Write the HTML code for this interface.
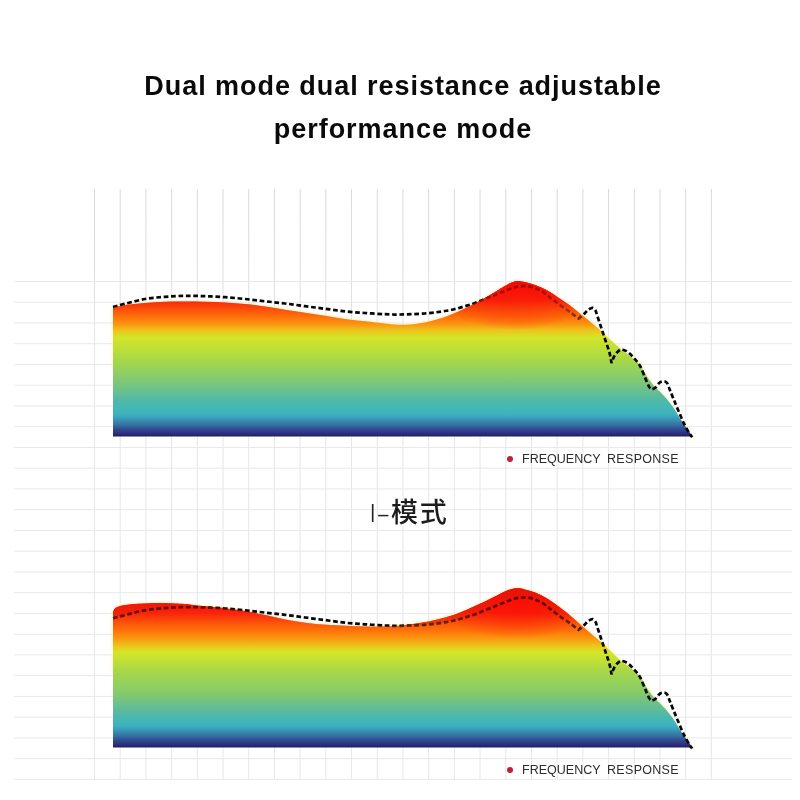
<!DOCTYPE html>
<html lang="en">
<head>
<meta charset="utf-8">
<title>Dual mode dual resistance adjustable performance mode</title>
<style>
html,body{margin:0;padding:0;background:#fff;}
body{width:800px;height:800px;position:relative;overflow:hidden;font-family:"Liberation Sans","Noto Sans CJK SC",sans-serif;}
svg{position:absolute;left:0;top:0;}
.title{position:absolute;left:0;width:806px;top:65.3px;text-align:center;font-weight:bold;font-size:27px;line-height:42.5px;color:#0a0a0a;letter-spacing:0.95px;margin:0;}
.mode{position:absolute;left:369px;top:493.2px;white-space:nowrap;font-weight:normal;font-size:27px;line-height:40px;color:#222;margin:0;letter-spacing:3px;}
.mode .lat{display:inline-block;font-size:25.8px;letter-spacing:0;transform:scaleX(0.68);}
.mode .hy{display:inline-block;font-size:25.6px;letter-spacing:0;transform:scale(1.65,0.72);margin:0 3.2px 0 2.4px;position:relative;top:1.7px;}
.mode .cj{letter-spacing:2px;margin-left:0.6px;font-weight:500;color:#1c1c1c;}
.legend{position:absolute;left:507.7px;height:16px;line-height:16px;font-size:12.5px;color:#2c2c2c;letter-spacing:0.3px;word-spacing:2.6px;white-space:nowrap;margin:0;}
.legend span{letter-spacing:0.02px;}
.legend i{display:inline-block;width:6.4px;height:6.4px;border-radius:50%;background:#c02038;vertical-align:middle;margin-right:8.6px;margin-left:-0.7px;position:relative;top:-0.7px;}
</style>
</head>
<body>
<svg width="800" height="800" viewBox="0 0 800 800">
<defs><linearGradient id="g1" gradientUnits="userSpaceOnUse" x1="0" y1="281.00" x2="0" y2="436.60"><stop offset="0.0000" stop-color="#e0100a"/><stop offset="0.0450" stop-color="#fc0e06"/><stop offset="0.1221" stop-color="#f8240a"/><stop offset="0.1864" stop-color="#fc520a"/><stop offset="0.2346" stop-color="#ff740a"/><stop offset="0.2763" stop-color="#fb9410"/><stop offset="0.3181" stop-color="#ecc41c"/><stop offset="0.3631" stop-color="#d4e628"/><stop offset="0.5077" stop-color="#a8d848"/><stop offset="0.6523" stop-color="#7cc878"/><stop offset="0.7680" stop-color="#50b8a8"/><stop offset="0.8162" stop-color="#44b8b4"/><stop offset="0.8612" stop-color="#3cb0c0"/><stop offset="0.8869" stop-color="#3898b8"/><stop offset="0.9254" stop-color="#3570a0"/><stop offset="0.9544" stop-color="#304890"/><stop offset="0.9833" stop-color="#2a2c7c"/><stop offset="1.0000" stop-color="#1e1e58"/></linearGradient><linearGradient id="g2" gradientUnits="userSpaceOnUse" x1="0" y1="592.00" x2="0" y2="747.60"><stop offset="0.0000" stop-color="#e0100a"/><stop offset="0.0450" stop-color="#fc0e06"/><stop offset="0.1350" stop-color="#f8240a"/><stop offset="0.1960" stop-color="#fc520a"/><stop offset="0.2506" stop-color="#ff740a"/><stop offset="0.3085" stop-color="#f8a010"/><stop offset="0.3535" stop-color="#e8cc1e"/><stop offset="0.3888" stop-color="#d4e628"/><stop offset="0.5077" stop-color="#a8d848"/><stop offset="0.6523" stop-color="#84ca6c"/><stop offset="0.7680" stop-color="#5abaa0"/><stop offset="0.8162" stop-color="#44b8b4"/><stop offset="0.8612" stop-color="#3cb0c0"/><stop offset="0.8869" stop-color="#3898b8"/><stop offset="0.9254" stop-color="#3570a0"/><stop offset="0.9544" stop-color="#304890"/><stop offset="0.9833" stop-color="#2a2c7c"/><stop offset="1.0000" stop-color="#1e1e58"/></linearGradient><linearGradient id="o1" gradientUnits="userSpaceOnUse" x1="0" y1="281.00" x2="0" y2="436.60"><stop offset="0.0000" stop-color="#e0100a" stop-opacity="0.64"/><stop offset="0.0450" stop-color="#fc0e06" stop-opacity="0.64"/><stop offset="0.1221" stop-color="#f8240a" stop-opacity="0.64"/><stop offset="0.1864" stop-color="#fc520a" stop-opacity="0.64"/><stop offset="0.2346" stop-color="#ff740a" stop-opacity="0.40"/><stop offset="0.2763" stop-color="#fb9410" stop-opacity="0.20"/><stop offset="0.3181" stop-color="#ecc41c" stop-opacity="0.10"/><stop offset="0.3631" stop-color="#d4e628" stop-opacity="0.00"/></linearGradient><linearGradient id="o2" gradientUnits="userSpaceOnUse" x1="0" y1="592.00" x2="0" y2="747.60"><stop offset="0.0000" stop-color="#e0100a" stop-opacity="0.38"/><stop offset="0.0450" stop-color="#fc0e06" stop-opacity="0.38"/><stop offset="0.1350" stop-color="#f8240a" stop-opacity="0.38"/><stop offset="0.1960" stop-color="#fc520a" stop-opacity="0.38"/><stop offset="0.2506" stop-color="#ff740a" stop-opacity="0.24"/><stop offset="0.3085" stop-color="#f8a010" stop-opacity="0.12"/><stop offset="0.3535" stop-color="#e8cc1e" stop-opacity="0.00"/><stop offset="0.3888" stop-color="#d4e628" stop-opacity="0.00"/></linearGradient><radialGradient id="pk" cx="0.5" cy="0.5" r="0.5"><stop offset="0" stop-color="#fb0d06" stop-opacity="1"/><stop offset="0.35" stop-color="#fb0d06" stop-opacity="0.85"/><stop offset="0.7" stop-color="#fb1207" stop-opacity="0.4"/><stop offset="1" stop-color="#fb1408" stop-opacity="0"/></radialGradient>
<filter id="bl" x="-5%" y="-20%" width="110%" height="140%"><feGaussianBlur stdDeviation="0.8"/></filter>
<clipPath id="c1"><use href="#f1"/></clipPath><clipPath id="c2"><use href="#f2"/></clipPath>
<linearGradient id="vg" gradientUnits="userSpaceOnUse" x1="0" y1="189" x2="0" y2="780"><stop offset="0" stop-color="#d9d9dd"/><stop offset="0.15" stop-color="#dedee2"/><stop offset="0.28" stop-color="#e6e6ea"/><stop offset="1" stop-color="#e7e7eb"/></linearGradient>
<path id="f1" d="M113.00 308.00 C115.00 307.50 119.67 305.83 125.00 305.00 C130.33 304.17 138.33 303.53 145.00 303.00 C151.67 302.47 158.33 302.05 165.00 301.80 C171.67 301.55 178.33 301.50 185.00 301.50 C191.67 301.50 198.33 301.63 205.00 301.80 C211.67 301.97 218.33 302.13 225.00 302.50 C231.67 302.87 238.33 303.33 245.00 304.00 C251.67 304.67 258.33 305.55 265.00 306.50 C271.67 307.45 278.33 308.65 285.00 309.70 C291.67 310.75 298.33 311.78 305.00 312.80 C311.67 313.82 318.33 314.77 325.00 315.80 C331.67 316.83 338.33 318.10 345.00 319.00 C351.67 319.90 358.33 320.45 365.00 321.20 C371.67 321.95 380.00 322.95 385.00 323.50 C390.00 324.05 391.67 324.30 395.00 324.50 C398.33 324.70 401.67 324.78 405.00 324.70 C408.33 324.62 411.67 324.37 415.00 324.00 C418.33 323.63 421.67 323.17 425.00 322.50 C428.33 321.83 431.67 320.92 435.00 320.00 C438.33 319.08 441.67 318.17 445.00 317.00 C448.33 315.83 451.67 314.42 455.00 313.00 C458.33 311.58 461.67 310.08 465.00 308.50 C468.33 306.92 471.67 305.25 475.00 303.50 C478.33 301.75 481.67 299.92 485.00 298.00 C488.33 296.08 491.67 294.00 495.00 292.00 C498.33 290.00 502.33 287.53 505.00 286.00 C507.67 284.47 509.00 283.63 511.00 282.80 C513.00 281.97 515.00 281.17 517.00 281.00 C519.00 280.83 520.00 281.13 523.00 281.80 C526.00 282.47 530.92 283.55 535.00 285.00 C539.08 286.45 543.33 288.22 547.50 290.50 C551.67 292.78 556.25 296.20 560.00 298.70 C563.75 301.20 566.67 303.03 570.00 305.50 C573.33 307.97 576.67 310.83 580.00 313.50 C583.33 316.17 586.67 318.75 590.00 321.50 C593.33 324.25 596.67 327.00 600.00 330.00 C603.33 333.00 606.67 336.42 610.00 339.50 C613.33 342.58 616.67 345.75 620.00 348.50 C623.33 351.25 626.67 353.25 630.00 356.00 C633.33 358.75 637.60 362.25 640.00 365.00 C642.40 367.75 642.11 369.07 644.40 372.50 C646.69 375.93 650.63 381.85 653.75 385.60 C656.87 389.35 659.98 391.56 663.10 395.00 C666.23 398.44 669.37 401.88 672.50 406.25 C675.63 410.62 678.55 416.19 681.90 421.25 C685.25 426.31 690.82 434.04 692.60 436.60 L113 436.60 Z"/><path id="f2" d="M113.00 612.00 C113.33 611.37 113.83 609.20 115.00 608.20 C116.17 607.20 118.33 606.53 120.00 606.00 C121.67 605.47 122.08 605.38 125.00 605.00 C127.92 604.62 133.33 604.00 137.50 603.70 C141.67 603.40 145.83 603.30 150.00 603.20 C154.17 603.10 158.33 603.05 162.50 603.10 C166.67 603.15 171.25 603.35 175.00 603.50 C178.75 603.65 180.83 603.62 185.00 604.00 C189.17 604.38 193.33 605.10 200.00 605.80 C206.67 606.50 217.50 607.33 225.00 608.20 C232.50 609.07 238.33 609.87 245.00 611.00 C251.67 612.13 258.33 613.60 265.00 615.00 C271.67 616.40 278.33 618.10 285.00 619.40 C291.67 620.70 298.33 621.90 305.00 622.80 C311.67 623.70 318.33 624.30 325.00 624.80 C331.67 625.30 338.33 625.52 345.00 625.80 C351.67 626.08 358.33 626.37 365.00 626.50 C371.67 626.63 378.33 626.85 385.00 626.60 C391.67 626.35 398.33 625.77 405.00 625.00 C411.67 624.23 420.00 622.83 425.00 622.00 C430.00 621.17 431.67 620.75 435.00 620.00 C438.33 619.25 441.67 618.42 445.00 617.50 C448.33 616.58 451.67 615.67 455.00 614.50 C458.33 613.33 461.67 611.92 465.00 610.50 C468.33 609.08 471.67 607.50 475.00 606.00 C478.33 604.50 481.67 603.08 485.00 601.50 C488.33 599.92 491.67 598.17 495.00 596.50 C498.33 594.83 502.33 592.70 505.00 591.50 C507.67 590.30 509.00 589.83 511.00 589.30 C513.00 588.77 515.00 588.37 517.00 588.30 C519.00 588.23 520.00 588.20 523.00 588.90 C526.00 589.60 530.92 590.86 535.00 592.50 C539.08 594.14 543.33 596.25 547.50 598.75 C551.67 601.25 555.83 604.38 560.00 607.50 C564.17 610.62 568.33 614.00 572.50 617.50 C576.67 621.00 580.83 624.92 585.00 628.50 C589.17 632.08 593.33 635.33 597.50 639.00 C601.67 642.67 606.25 647.00 610.00 650.50 C613.75 654.00 616.67 657.17 620.00 660.00 C623.33 662.83 626.67 664.75 630.00 667.50 C633.33 670.25 637.60 673.75 640.00 676.50 C642.40 679.25 642.11 680.57 644.40 684.00 C646.69 687.43 650.63 693.35 653.75 697.10 C656.87 700.85 659.98 703.06 663.10 706.50 C666.23 709.94 669.37 713.38 672.50 717.75 C675.63 722.12 678.55 727.77 681.90 732.75 C685.25 737.73 690.82 745.12 692.60 747.60 L113 747.60 Z"/></defs>
<g stroke-width="1" fill="none"><g stroke="url(#vg)"><line x1="94.50" y1="189" x2="94.50" y2="780"/><line x1="120.20" y1="189" x2="120.20" y2="780"/><line x1="145.91" y1="189" x2="145.91" y2="780"/><line x1="171.61" y1="189" x2="171.61" y2="780"/><line x1="197.32" y1="189" x2="197.32" y2="780"/><line x1="223.02" y1="189" x2="223.02" y2="780"/><line x1="248.72" y1="189" x2="248.72" y2="780"/><line x1="274.43" y1="189" x2="274.43" y2="780"/><line x1="300.13" y1="189" x2="300.13" y2="780"/><line x1="325.84" y1="189" x2="325.84" y2="780"/><line x1="351.54" y1="189" x2="351.54" y2="780"/><line x1="377.25" y1="189" x2="377.25" y2="780"/><line x1="402.95" y1="189" x2="402.95" y2="780"/><line x1="428.65" y1="189" x2="428.65" y2="780"/><line x1="454.36" y1="189" x2="454.36" y2="780"/><line x1="480.06" y1="189" x2="480.06" y2="780"/><line x1="505.77" y1="189" x2="505.77" y2="780"/><line x1="531.47" y1="189" x2="531.47" y2="780"/><line x1="557.17" y1="189" x2="557.17" y2="780"/><line x1="582.88" y1="189" x2="582.88" y2="780"/><line x1="608.58" y1="189" x2="608.58" y2="780"/><line x1="634.29" y1="189" x2="634.29" y2="780"/><line x1="659.99" y1="189" x2="659.99" y2="780"/><line x1="685.70" y1="189" x2="685.70" y2="780"/><line x1="711.40" y1="189" x2="711.40" y2="780"/></g><g stroke="#e8e8ec"><line x1="14" y1="281.50" x2="792" y2="281.50"/><line x1="14" y1="302.25" x2="792" y2="302.25"/><line x1="14" y1="322.99" x2="792" y2="322.99"/><line x1="14" y1="343.74" x2="792" y2="343.74"/><line x1="14" y1="364.48" x2="792" y2="364.48"/><line x1="14" y1="385.23" x2="792" y2="385.23"/><line x1="14" y1="405.97" x2="792" y2="405.97"/><line x1="14" y1="426.72" x2="792" y2="426.72"/><line x1="14" y1="447.47" x2="792" y2="447.47"/><line x1="14" y1="468.21" x2="792" y2="468.21"/><line x1="14" y1="488.96" x2="792" y2="488.96"/><line x1="14" y1="509.70" x2="792" y2="509.70"/><line x1="14" y1="530.45" x2="792" y2="530.45"/><line x1="14" y1="551.20" x2="792" y2="551.20"/><line x1="14" y1="571.94" x2="792" y2="571.94"/><line x1="14" y1="592.69" x2="792" y2="592.69"/><line x1="14" y1="613.43" x2="792" y2="613.43"/><line x1="14" y1="634.18" x2="792" y2="634.18"/><line x1="14" y1="654.92" x2="792" y2="654.92"/><line x1="14" y1="675.67" x2="792" y2="675.67"/><line x1="14" y1="696.42" x2="792" y2="696.42"/><line x1="14" y1="717.16" x2="792" y2="717.16"/><line x1="14" y1="737.91" x2="792" y2="737.91"/><line x1="14" y1="758.65" x2="792" y2="758.65"/><line x1="14" y1="779.40" x2="792" y2="779.40"/></g></g>
<path d="M113 368.00 L113.00 308.00 C115.00 307.50 119.67 305.83 125.00 305.00 C130.33 304.17 138.33 303.53 145.00 303.00 C151.67 302.47 158.33 302.05 165.00 301.80 C171.67 301.55 178.33 301.50 185.00 301.50 C191.67 301.50 198.33 301.63 205.00 301.80 C211.67 301.97 218.33 302.13 225.00 302.50 C231.67 302.87 238.33 303.33 245.00 304.00 C251.67 304.67 258.33 305.55 265.00 306.50 C271.67 307.45 278.33 308.65 285.00 309.70 C291.67 310.75 298.33 311.78 305.00 312.80 C311.67 313.82 318.33 314.77 325.00 315.80 C331.67 316.83 338.33 318.10 345.00 319.00 C351.67 319.90 358.33 320.45 365.00 321.20 C371.67 321.95 380.00 322.95 385.00 323.50 C390.00 324.05 391.67 324.30 395.00 324.50 C398.33 324.70 401.67 324.78 405.00 324.70 C408.33 324.62 411.67 324.37 415.00 324.00 C418.33 323.63 421.67 323.17 425.00 322.50 C428.33 321.83 431.67 320.92 435.00 320.00 C438.33 319.08 441.67 318.17 445.00 317.00 C448.33 315.83 451.67 314.42 455.00 313.00 C458.33 311.58 461.67 310.08 465.00 308.50 C468.33 306.92 471.67 305.25 475.00 303.50 C478.33 301.75 481.67 299.92 485.00 298.00 C488.33 296.08 491.67 294.00 495.00 292.00 C498.33 290.00 502.33 287.53 505.00 286.00 C507.67 284.47 509.00 283.63 511.00 282.80 C513.00 281.97 515.00 281.17 517.00 281.00 C519.00 280.83 520.00 281.13 523.00 281.80 C526.00 282.47 530.92 283.55 535.00 285.00 C539.08 286.45 543.33 288.22 547.50 290.50 C551.67 292.78 556.25 296.20 560.00 298.70 C563.75 301.20 566.67 303.03 570.00 305.50 C573.33 307.97 576.67 310.83 580.00 313.50 C583.33 316.17 586.67 318.75 590.00 321.50 C593.33 324.25 596.67 327.00 600.00 330.00 C603.33 333.00 606.67 336.42 610.00 339.50 C613.33 342.58 616.67 345.75 620.00 348.50 C623.33 351.25 626.67 353.25 630.00 356.00 C633.33 358.75 637.60 362.25 640.00 365.00 C642.40 367.75 642.11 369.07 644.40 372.50 C646.69 375.93 650.63 381.85 653.75 385.60 C656.87 389.35 659.98 391.56 663.10 395.00 C666.23 398.44 669.37 401.88 672.50 406.25 C675.63 410.62 678.55 416.19 681.90 421.25 C685.25 426.31 690.82 434.04 692.60 436.60" fill="none" stroke="#ffeeb0" stroke-width="3" opacity="0.55" filter="url(#bl)"/>
<use href="#f1" fill="url(#g1)"/>
<ellipse cx="517" cy="292" rx="78" ry="38" fill="url(#pk)" clip-path="url(#c1)"/>
<path d="M113.00 307.00 C115.00 306.47 119.67 305.13 125.00 303.80 C130.33 302.47 138.33 300.17 145.00 299.00 C151.67 297.83 158.33 297.33 165.00 296.80 C171.67 296.27 178.33 295.90 185.00 295.80 C191.67 295.70 198.33 295.97 205.00 296.20 C211.67 296.43 218.33 296.73 225.00 297.20 C231.67 297.67 238.33 298.32 245.00 299.00 C251.67 299.68 258.33 300.55 265.00 301.30 C271.67 302.05 278.33 302.68 285.00 303.50 C291.67 304.32 298.33 305.32 305.00 306.20 C311.67 307.08 318.33 307.93 325.00 308.80 C331.67 309.67 338.33 310.70 345.00 311.40 C351.67 312.10 358.33 312.53 365.00 313.00 C371.67 313.47 379.17 313.95 385.00 314.20 C390.83 314.45 393.33 314.62 400.00 314.50 C406.67 314.38 417.50 314.08 425.00 313.50 C432.50 312.92 440.00 311.75 445.00 311.00 C450.00 310.25 451.67 309.80 455.00 309.00 C458.33 308.20 461.67 307.20 465.00 306.20 C468.33 305.20 471.67 304.20 475.00 303.00 C478.33 301.80 481.67 300.33 485.00 299.00 C488.33 297.67 491.67 296.33 495.00 295.00 C498.33 293.67 502.00 292.22 505.00 291.00 C508.00 289.78 510.83 288.45 513.00 287.70 C515.17 286.95 516.17 286.75 518.00 286.50 C519.83 286.25 522.00 286.18 524.00 286.20 C526.00 286.22 528.00 286.18 530.00 286.60 C532.00 287.02 534.00 287.90 536.00 288.70 C538.00 289.50 539.67 289.93 542.00 291.40 C544.33 292.87 547.00 295.23 550.00 297.50 C553.00 299.77 556.67 302.58 560.00 305.00 C563.33 307.42 566.92 309.75 570.00 312.00 C573.08 314.25 578.50 318.50 578.50 318.50 C578.50 318.50 582.42 315.42 584.00 314.00 C585.58 312.58 586.58 311.03 588.00 310.00 C589.42 308.97 591.25 307.72 592.50 307.80 C593.75 307.88 594.75 309.30 595.50 310.50 C596.25 311.70 596.42 313.25 597.00 315.00 C597.58 316.75 598.33 319.00 599.00 321.00 C599.67 323.00 600.33 325.00 601.00 327.00 C601.67 329.00 602.33 331.00 603.00 333.00 C603.67 335.00 604.33 337.00 605.00 339.00 C605.67 341.00 606.33 343.00 607.00 345.00 C607.67 347.00 608.42 349.00 609.00 351.00 C609.58 353.00 610.08 355.00 610.50 357.00 C610.92 359.00 611.50 363.00 611.50 363.00 C611.50 363.00 612.42 360.33 613.00 359.00 C613.58 357.67 614.17 356.25 615.00 355.00 C615.83 353.75 617.00 352.38 618.00 351.50 C619.00 350.62 619.83 349.87 621.00 349.70 C622.17 349.53 623.67 349.95 625.00 350.50 C626.33 351.05 627.67 351.92 629.00 353.00 C630.33 354.08 631.67 355.58 633.00 357.00 C634.33 358.42 635.73 359.85 637.00 361.50 C638.27 363.15 639.22 364.13 640.60 366.90 C641.98 369.67 643.90 374.82 645.30 378.10 C646.70 381.38 647.90 384.72 649.00 386.60 C650.10 388.48 651.90 389.40 651.90 389.40 C651.90 389.40 654.35 388.60 655.60 387.50 C656.85 386.40 658.15 383.83 659.40 382.80 C660.65 381.77 661.85 381.30 663.10 381.30 C664.35 381.30 665.80 381.45 666.90 382.80 C668.00 384.15 668.62 386.74 669.70 389.40 C670.78 392.06 672.00 395.32 673.40 398.75 C674.80 402.18 676.38 405.94 678.10 410.00 C679.83 414.06 681.87 419.20 683.75 423.10 C685.63 427.00 687.99 431.05 689.40 433.40 C690.81 435.75 691.73 436.57 692.20 437.20" fill="none" stroke="#060606" stroke-width="2.7" stroke-dasharray="4.7 2.7"/>
<use href="#f1" fill="url(#o1)"/>
<path d="M113 672.00 L113.00 612.00 C113.33 611.37 113.83 609.20 115.00 608.20 C116.17 607.20 118.33 606.53 120.00 606.00 C121.67 605.47 122.08 605.38 125.00 605.00 C127.92 604.62 133.33 604.00 137.50 603.70 C141.67 603.40 145.83 603.30 150.00 603.20 C154.17 603.10 158.33 603.05 162.50 603.10 C166.67 603.15 171.25 603.35 175.00 603.50 C178.75 603.65 180.83 603.62 185.00 604.00 C189.17 604.38 193.33 605.10 200.00 605.80 C206.67 606.50 217.50 607.33 225.00 608.20 C232.50 609.07 238.33 609.87 245.00 611.00 C251.67 612.13 258.33 613.60 265.00 615.00 C271.67 616.40 278.33 618.10 285.00 619.40 C291.67 620.70 298.33 621.90 305.00 622.80 C311.67 623.70 318.33 624.30 325.00 624.80 C331.67 625.30 338.33 625.52 345.00 625.80 C351.67 626.08 358.33 626.37 365.00 626.50 C371.67 626.63 378.33 626.85 385.00 626.60 C391.67 626.35 398.33 625.77 405.00 625.00 C411.67 624.23 420.00 622.83 425.00 622.00 C430.00 621.17 431.67 620.75 435.00 620.00 C438.33 619.25 441.67 618.42 445.00 617.50 C448.33 616.58 451.67 615.67 455.00 614.50 C458.33 613.33 461.67 611.92 465.00 610.50 C468.33 609.08 471.67 607.50 475.00 606.00 C478.33 604.50 481.67 603.08 485.00 601.50 C488.33 599.92 491.67 598.17 495.00 596.50 C498.33 594.83 502.33 592.70 505.00 591.50 C507.67 590.30 509.00 589.83 511.00 589.30 C513.00 588.77 515.00 588.37 517.00 588.30 C519.00 588.23 520.00 588.20 523.00 588.90 C526.00 589.60 530.92 590.86 535.00 592.50 C539.08 594.14 543.33 596.25 547.50 598.75 C551.67 601.25 555.83 604.38 560.00 607.50 C564.17 610.62 568.33 614.00 572.50 617.50 C576.67 621.00 580.83 624.92 585.00 628.50 C589.17 632.08 593.33 635.33 597.50 639.00 C601.67 642.67 606.25 647.00 610.00 650.50 C613.75 654.00 616.67 657.17 620.00 660.00 C623.33 662.83 626.67 664.75 630.00 667.50 C633.33 670.25 637.60 673.75 640.00 676.50 C642.40 679.25 642.11 680.57 644.40 684.00 C646.69 687.43 650.63 693.35 653.75 697.10 C656.87 700.85 659.98 703.06 663.10 706.50 C666.23 709.94 669.37 713.38 672.50 717.75 C675.63 722.12 678.55 727.77 681.90 732.75 C685.25 737.73 690.82 745.12 692.60 747.60" fill="none" stroke="#ffeeb0" stroke-width="3" opacity="0.55" filter="url(#bl)"/>
<use href="#f2" fill="url(#g2)"/>
<ellipse cx="517" cy="601" rx="78" ry="38" fill="url(#pk)" clip-path="url(#c2)"/>
<path d="M113.00 612.00 C113.33 611.37 113.83 609.20 115.00 608.20 C116.17 607.20 118.33 606.53 120.00 606.00 C121.67 605.47 122.08 605.38 125.00 605.00 C127.92 604.62 133.33 604.00 137.50 603.70 C141.67 603.40 145.83 603.30 150.00 603.20 C154.17 603.10 158.33 603.05 162.50 603.10 C166.67 603.15 171.25 603.35 175.00 603.50 C178.75 603.65 180.83 603.62 185.00 604.00 C189.17 604.38 193.33 605.10 200.00 605.80 C206.67 606.50 217.50 607.33 225.00 608.20 C232.50 609.07 238.33 609.87 245.00 611.00 C251.67 612.13 258.33 613.60 265.00 615.00 C271.67 616.40 278.33 618.10 285.00 619.40 C291.67 620.70 298.33 621.90 305.00 622.80 C311.67 623.70 318.33 624.30 325.00 624.80 C331.67 625.30 338.33 625.52 345.00 625.80 C351.67 626.08 358.33 626.37 365.00 626.50 C371.67 626.63 378.33 626.85 385.00 626.60 C391.67 626.35 398.33 625.77 405.00 625.00 C411.67 624.23 420.00 622.83 425.00 622.00 C430.00 621.17 431.67 620.75 435.00 620.00 C438.33 619.25 441.67 618.42 445.00 617.50 C448.33 616.58 451.67 615.67 455.00 614.50 C458.33 613.33 461.67 611.92 465.00 610.50 C468.33 609.08 471.67 607.50 475.00 606.00 C478.33 604.50 481.67 603.08 485.00 601.50 C488.33 599.92 491.67 598.17 495.00 596.50 C498.33 594.83 502.33 592.70 505.00 591.50 C507.67 590.30 509.00 589.83 511.00 589.30 C513.00 588.77 515.00 588.37 517.00 588.30 C519.00 588.23 520.00 588.20 523.00 588.90 C526.00 589.60 530.92 590.86 535.00 592.50 C539.08 594.14 543.33 596.25 547.50 598.75 C551.67 601.25 557.92 606.04 560.00 607.50 L560.00 616.30 C558.33 615.05 553.00 611.07 550.00 608.80 C547.00 606.53 544.33 604.17 542.00 602.70 C539.67 601.23 538.00 600.80 536.00 600.00 C534.00 599.20 532.00 598.32 530.00 597.90 C528.00 597.48 526.00 597.52 524.00 597.50 C522.00 597.48 519.83 597.55 518.00 597.80 C516.17 598.05 515.17 598.25 513.00 599.00 C510.83 599.75 508.00 601.08 505.00 602.30 C502.00 603.52 498.33 604.97 495.00 606.30 C491.67 607.63 488.33 608.97 485.00 610.30 C481.67 611.63 478.33 613.10 475.00 614.30 C471.67 615.50 468.33 616.50 465.00 617.50 C461.67 618.50 458.33 619.50 455.00 620.30 C451.67 621.10 450.00 621.55 445.00 622.30 C440.00 623.05 432.50 624.22 425.00 624.80 C417.50 625.38 406.67 625.68 400.00 625.80 C393.33 625.92 390.83 625.75 385.00 625.50 C379.17 625.25 371.67 624.77 365.00 624.30 C358.33 623.83 351.67 623.40 345.00 622.70 C338.33 622.00 331.67 620.97 325.00 620.10 C318.33 619.23 311.67 618.38 305.00 617.50 C298.33 616.62 291.67 615.62 285.00 614.80 C278.33 613.98 271.67 613.35 265.00 612.60 C258.33 611.85 251.67 610.98 245.00 610.30 C238.33 609.62 231.67 608.97 225.00 608.50 C218.33 608.03 211.67 607.73 205.00 607.50 C198.33 607.27 191.67 607.00 185.00 607.10 C178.33 607.20 171.67 607.57 165.00 608.10 C158.33 608.63 151.67 609.13 145.00 610.30 C138.33 611.47 130.33 613.77 125.00 615.10 C119.67 616.43 115.00 617.77 113.00 618.30 Z" fill="#e41c0a" opacity="0.72" clip-path="url(#c2)"/>
<path d="M113.00 618.30 C115.00 617.77 119.67 616.43 125.00 615.10 C130.33 613.77 138.33 611.47 145.00 610.30 C151.67 609.13 158.33 608.63 165.00 608.10 C171.67 607.57 178.33 607.20 185.00 607.10 C191.67 607.00 198.33 607.27 205.00 607.50 C211.67 607.73 218.33 608.03 225.00 608.50 C231.67 608.97 238.33 609.62 245.00 610.30 C251.67 610.98 258.33 611.85 265.00 612.60 C271.67 613.35 278.33 613.98 285.00 614.80 C291.67 615.62 298.33 616.62 305.00 617.50 C311.67 618.38 318.33 619.23 325.00 620.10 C331.67 620.97 338.33 622.00 345.00 622.70 C351.67 623.40 358.33 623.83 365.00 624.30 C371.67 624.77 379.17 625.25 385.00 625.50 C390.83 625.75 393.33 625.92 400.00 625.80 C406.67 625.68 417.50 625.38 425.00 624.80 C432.50 624.22 440.00 623.05 445.00 622.30 C450.00 621.55 451.67 621.10 455.00 620.30 C458.33 619.50 461.67 618.50 465.00 617.50 C468.33 616.50 471.67 615.50 475.00 614.30 C478.33 613.10 481.67 611.63 485.00 610.30 C488.33 608.97 491.67 607.63 495.00 606.30 C498.33 604.97 502.00 603.52 505.00 602.30 C508.00 601.08 510.83 599.75 513.00 599.00 C515.17 598.25 516.17 598.05 518.00 597.80 C519.83 597.55 522.00 597.48 524.00 597.50 C526.00 597.52 528.00 597.48 530.00 597.90 C532.00 598.32 534.00 599.20 536.00 600.00 C538.00 600.80 539.67 601.23 542.00 602.70 C544.33 604.17 547.00 606.53 550.00 608.80 C553.00 611.07 556.67 613.88 560.00 616.30 C563.33 618.72 566.92 621.05 570.00 623.30 C573.08 625.55 578.50 629.80 578.50 629.80 C578.50 629.80 582.42 626.72 584.00 625.30 C585.58 623.88 586.58 622.33 588.00 621.30 C589.42 620.27 591.25 619.02 592.50 619.10 C593.75 619.18 594.75 620.60 595.50 621.80 C596.25 623.00 596.42 624.55 597.00 626.30 C597.58 628.05 598.33 630.30 599.00 632.30 C599.67 634.30 600.33 636.30 601.00 638.30 C601.67 640.30 602.33 642.30 603.00 644.30 C603.67 646.30 604.33 648.30 605.00 650.30 C605.67 652.30 606.33 654.30 607.00 656.30 C607.67 658.30 608.42 660.30 609.00 662.30 C609.58 664.30 610.08 666.30 610.50 668.30 C610.92 670.30 611.50 674.30 611.50 674.30 C611.50 674.30 612.42 671.63 613.00 670.30 C613.58 668.97 614.17 667.55 615.00 666.30 C615.83 665.05 617.00 663.68 618.00 662.80 C619.00 661.92 619.83 661.17 621.00 661.00 C622.17 660.83 623.67 661.25 625.00 661.80 C626.33 662.35 627.67 663.22 629.00 664.30 C630.33 665.38 631.67 666.88 633.00 668.30 C634.33 669.72 635.73 671.15 637.00 672.80 C638.27 674.45 639.22 675.43 640.60 678.20 C641.98 680.97 643.90 686.12 645.30 689.40 C646.70 692.68 647.90 696.02 649.00 697.90 C650.10 699.78 651.90 700.70 651.90 700.70 C651.90 700.70 654.35 699.90 655.60 698.80 C656.85 697.70 658.15 695.13 659.40 694.10 C660.65 693.07 661.85 692.60 663.10 692.60 C664.35 692.60 665.80 692.75 666.90 694.10 C668.00 695.45 668.62 698.04 669.70 700.70 C670.78 703.36 672.00 706.62 673.40 710.05 C674.80 713.48 676.38 717.24 678.10 721.30 C679.83 725.36 681.87 730.50 683.75 734.40 C685.63 738.30 687.99 742.35 689.40 744.70 C690.81 747.05 691.73 747.87 692.20 748.50" fill="none" stroke="#060606" stroke-width="2.7" stroke-dasharray="4.7 2.7"/>
<use href="#f2" fill="url(#o2)"/>
</svg>
<h1 class="title">Dual mode dual resistance adjustable<br>performance mode</h1>
<p class="legend" style="top:451.2px"><i></i><span>FREQUENCY</span> RESPONSE</p>
<h2 class="mode"><span class="lat">I</span><span class="hy">-</span><span class="cj">模式</span></h2>
<p class="legend" style="top:762.2px"><i></i><span>FREQUENCY</span> RESPONSE</p>
</body>
</html>
